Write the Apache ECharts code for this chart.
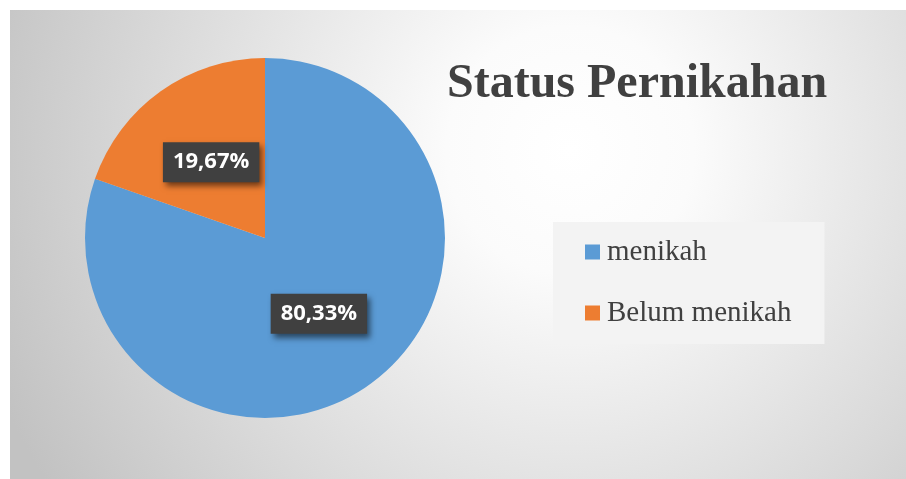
<!DOCTYPE html>
<html>
<head>
<meta charset="utf-8">
<script src="https://cdn.jsdelivr.net/npm/echarts@6/dist/echarts.min.js"></script>
<style>
html,body{margin:0;padding:0;background:#fff;width:906px;height:479px;overflow:hidden;}
#chart{position:absolute;left:10px;top:10px;width:896px;height:469px;}
</style>
</head>
<body>
<div id="chart"></div>
<script>
const titleText = 'Status Pernikahan';
const categories = ['menikah', 'Belum menikah'];
const values = [80.33, 19.67];
const labelTexts = ['80,33%', '19,67%'];
const colors = ['#5B9BD5', '#ED7D31'];

const chart = echarts.init(document.getElementById('chart'), null, {renderer: 'canvas'});
const option = {
  backgroundColor: {
    type: 'radial', x: 560, y: 140, r: 620, global: true,
    colorStops: [
      {offset: 0, color: '#ffffff'},
      {offset: 0.2, color: '#fbfbfb'},
      {offset: 1, color: '#c2c2c2'}
    ]
  },
  animation: false,
  title: {
    text: titleText,
    left: 432, top: 46,
    textStyle: {fontFamily: 'Liberation Serif', fontWeight: 'bold', fontSize: 48, color: '#404040'}
  },
  legend: {
    orient: 'vertical',
    left: 543, top: 212,
    backgroundColor: '#f3f3f3',
    padding: [15, 33, 16, 32],
    itemGap: 31,
    itemWidth: 15, itemHeight: 15,
    icon: 'rect',
    data: categories,
    textStyle: {fontFamily: 'Liberation Serif', fontSize: 29, color: '#404040', lineHeight: 30, padding: [0, 0, 0, 2]}
  },
  series: [{
    type: 'pie',
    center: [255, 228],
    radius: [0, 180],
    startAngle: 90,
    clockwise: true,
    silent: true,
    color: colors,
    itemStyle: {borderWidth: 0},
    label: {
      show: true,
      position: 'inside',
      formatter: function (p) { return labelTexts[p.dataIndex]; },
      fontFamily: 'Open Sans',
      fontWeight: 'bold',
      fontSize: 22,
      color: '#ffffff',
      backgroundColor: '#404040',
      padding: [9, 10, 9, 10],
      shadowColor: 'rgba(0,0,0,0.55)',
      shadowBlur: 6,
      shadowOffsetX: 3,
      shadowOffsetY: 4
    },
    labelLine: {show: false},
    data: categories.map((c, i) => ({name: c, value: values[i]}))
  }]
};
chart.setOption(option);
</script>
</body>
</html>
